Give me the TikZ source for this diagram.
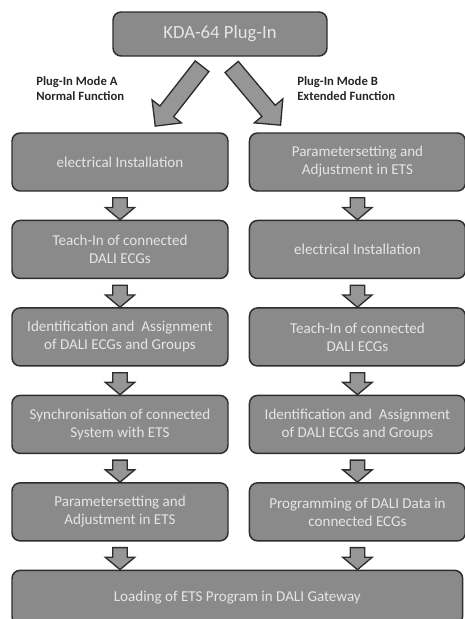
\documentclass[tikz,border=0pt]{standalone}
\usepackage{fontspec}
\setmainfont{Carlito}
\usetikzlibrary{positioning, calc, shapes.arrows}
\definecolor{boxgray}{RGB}{138,138,138}
\definecolor{edgegray}{RGB}{45,45,45}
\definecolor{arrowgray}{RGB}{150,150,150}
\tikzset{
stage/.style={shape=rectangle, rounded corners=6pt, draw=edgegray, line width=1.1pt, fill=boxgray, text=white!90!black, minimum width=162pt, minimum height=43.5pt, align=center, font=\fontsize{11.3}{13.5}\selectfont},
flow/.style={single arrow, draw=edgegray, line width=1pt, fill=arrowgray, rotate=-90, minimum height=16.5pt, minimum width=21pt, single arrow head extend=5.6pt, single arrow tip angle=100, inner xsep=0pt, inner ysep=4.9pt},
flowdiag/.style={flow, minimum height=57pt, minimum width=27pt, inner ysep=6pt, single arrow head extend=7.5pt, single arrow tip angle=90},
mode/.style={font=\bfseries\fontsize{9.5}{11.3}\selectfont, text=black!85, align=left, anchor=west, inner sep=0pt}}
\begin{document}
\begin{tikzpicture}
\useasboundingbox (0,0) rectangle (348.75pt,-464.25pt);
\node [stage, minimum width=160.5pt, minimum height=33pt, font=\fontsize{14}{16}\selectfont] (kda) at (165pt,-25.5pt) {KDA-64 Plug-In};
\node [flowdiag, rotate=-38] (toA) at ([xshift=-29pt,yshift=-27pt]kda.south) {};
\node [flowdiag, rotate=40] (toB) at ([xshift=25pt,yshift=-27pt]kda.south) {};
\node [mode] (modeA) at (27pt,-66.4pt) {Plug-In Mode A\\Normal Function};
\node [mode] (modeB) at (222.75pt,-66.4pt) {Plug-In Mode B\\Extended Function};
% mode A
\node [stage] (a1) at (90pt,-121.5pt) {electrical Installation};
\node [stage, below=21pt of a1] (a2) {Teach-In of connected\\DALI ECGs};
\node [stage, below=21pt of a2] (a3) {Identification and\ \ Assignment\\of DALI ECGs and Groups};
\node [stage, below=21pt of a3] (a4) {Synchronisation of connected\\System with ETS};
\node [stage, below=21pt of a4] (a5) {Parametersetting and\\Adjustment in ETS};
% mode B
\node [stage, right=15pt of a1] (b1) {Parametersetting and\\Adjustment in ETS};
\node [stage, below=21pt of b1] (b2) {electrical Installation};
\node [stage, below=21pt of b2] (b3) {Teach-In of connected\\DALI ECGs};
\node [stage, below=21pt of b3] (b4) {Identification and\ \ Assignment\\of DALI ECGs and Groups};
\node [stage, below=21pt of b4] (b5) {Programming of DALI Data in\\connected ECGs};
\node [stage, anchor=north west, minimum width=338pt, minimum height=40.5pt] (load) at ([yshift=-21pt]a5.south west) {Loading of ETS Program in DALI Gateway};
\foreach \u/\v in {a1/a2, a2/a3, a3/a4, a4/a5, b1/b2, b2/b3, b3/b4, b4/b5}
  \node [flow] at ($(\u.south)!0.5!(\v.north)$) {};
\node [flow] (aload) at ($(a5.south)!0.5!(a5.south |- load.north)$) {};
\node [flow] (bload) at ($(b5.south)!0.5!(b5.south |- load.north)$) {};
\end{tikzpicture}
\end{document}
